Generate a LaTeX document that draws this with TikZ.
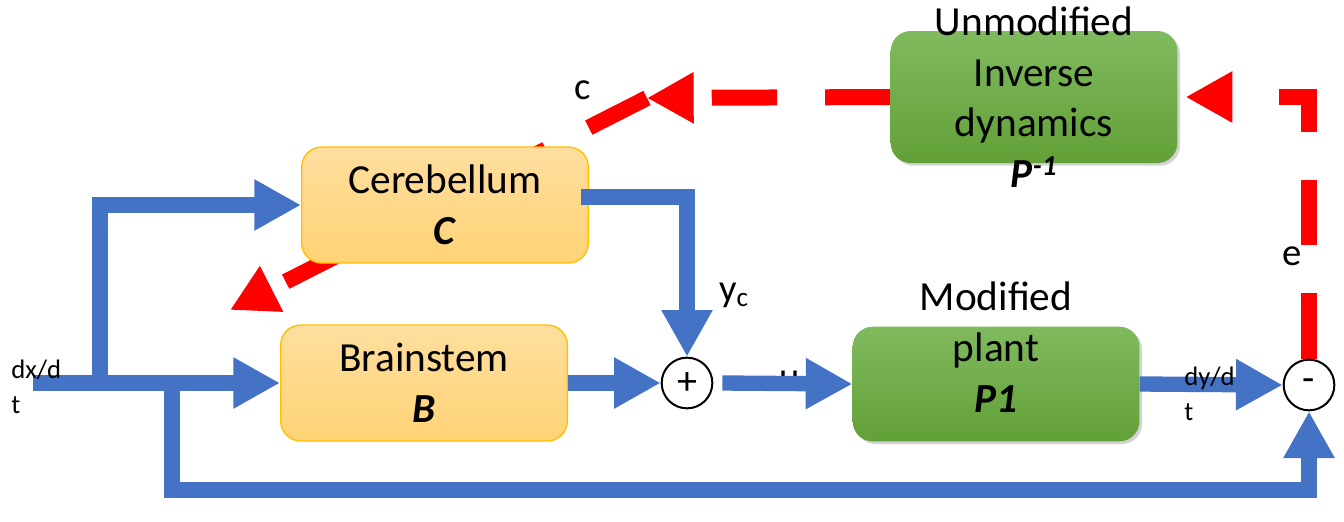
\documentclass[tikz,border=0pt]{standalone}
\usepackage{fontspec}
\setmainfont{Carlito}
\usetikzlibrary{arrows.meta,calc,shadows}
\definecolor{sigblue}{RGB}{68,114,196}
\definecolor{errred}{RGB}{255,0,0}
\definecolor{boxtop}{RGB}{255,222,158}
\definecolor{boxbot}{RGB}{255,211,118}
\definecolor{boxedge}{RGB}{255,192,0}
\definecolor{greentop}{RGB}{128,186,94}
\definecolor{greenbot}{RGB}{98,160,55}
\pgfdeclarelayer{back}
\pgfsetlayers{back,main}

\begin{document}
\begin{tikzpicture}[x=0.75pt,y=-0.75pt,
  every node/.style={font=\fontsize{31}{38}\selectfont},
  brainbox/.style={draw=boxedge, line width=1pt, rounded corners=15pt, top color=boxtop, bottom color=boxbot,
    minimum width=215pt, minimum height=87pt, align=center},
  plantbox/.style={rounded corners=15pt, top color=greentop, bottom color=greenbot, minimum width=215pt,
    drop shadow={opacity=0.35, shadow xshift=2pt, shadow yshift=-2pt}},
  junction/.style={circle, draw, line width=1.5pt, fill=white, minimum size=38pt, inner sep=0pt,
    font=\fontsize{30}{30}\selectfont},
  sig/.style={draw=sigblue, line width=11.5pt, -{Triangle[length=35pt,width=36pt]}},
  err/.style={draw=errred, line width=12pt, dash pattern=on 49pt off 36pt, -{Triangle[length=35pt,width=36pt]}},
  lbl/.style={font=\fontsize{29}{29}\selectfont},
  small/.style={font=\fontsize{20}{26}\selectfont, align=left, inner sep=0pt, anchor=north west}]
  \useasboundingbox (0,0) rectangle (1344,521);

  % blocks
  \node[brainbox] (cereb) at (445,205) {Cerebellum\\\textbf{\textit{C}}};
  \node[brainbox] (brain) at (424,383) {Brainstem\\\textbf{\textit{B}}};
  \node[plantbox, minimum height=86pt] (plant) at (996,384) {};
  \node[align=center] (planttext) at (996,347) {Modified\\plant\\\textbf{\textit{P1}}};
  \node[plantbox, minimum height=99pt] (inv) at (1034,97) {};
  \node[align=center] (invtext) at (inv.center) {Unmodified\\Inverse\\dynamics\\\textbf{\textit{P\textsuperscript{-1}}}};
  \node[junction] (sum) at (687,383) {+};
  \node[junction] (minus) at (1309,385) {-};

  \coordinate (dxin) at (33,383);
  \coordinate (tapup) at (100,383);
  \coordinate (tapdn) at (172,383);
  \coordinate (fbk) at (1309,490);
  \coordinate (cjoin) at (647,98);
  \coordinate (ctip) at (230,310);

  % error paths (behind the blocks)
  \begin{pgfonlayer}{back}
    \draw[err] (minus.north) |- ([xshift=6pt]inv.east);
    \draw[err] (inv.west) -- (cjoin);
    \draw[err] (cjoin) -- (ctip);
  \end{pgfonlayer}
  \node[lbl] (clbl) at (583,90) {c};
  \node[lbl] (elbl) at (1292,256) {e};
  \node[lbl] (yclbl) at (734,295) {y\textsubscript{c}};
  \node[lbl] (ulbl) at (790,380) {u};

  % signal paths
  \draw[sig] (dxin) -- (brain.west);
  \draw[sig] (tapup) |- (cereb.west);
  \draw[sig] (tapdn) |- (fbk) -- (minus.south);
  \draw[sig] ($(cereb.east)+(-8,-8)$) -| (sum.north);
  \draw[sig] (brain.east) -- (sum.west);
  \draw[sig] ($(sum.east)+(9,0)$) -- (plant.west);
  \draw[sig] (plant.east) -- (minus.west);

  \node[small] (dxlbl) at (11,360) {dx/d\\t};
  \node[small] (dylbl) at (1184,367) {dy/d\\t};
\end{tikzpicture}
\end{document}
